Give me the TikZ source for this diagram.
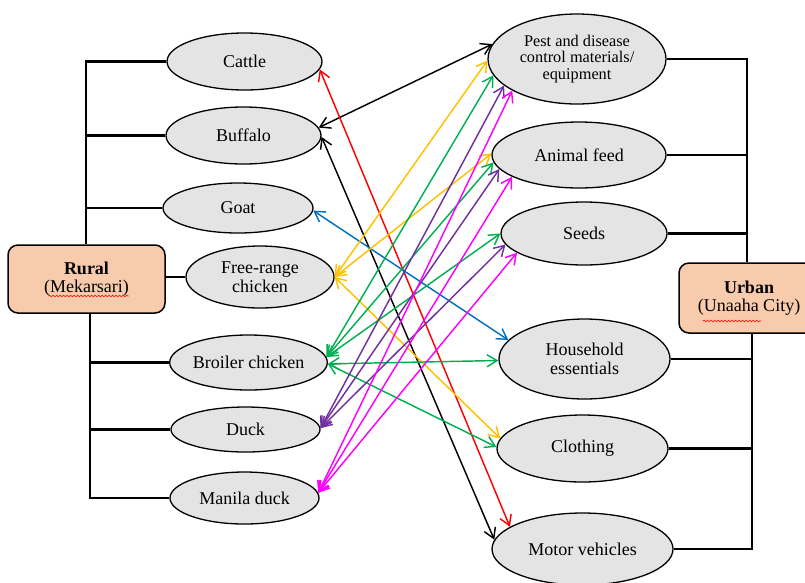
\documentclass[tikz,border=0pt]{standalone}
\usepackage{fontspec}
\setmainfont{Liberation Serif}
\usetikzlibrary{shapes.geometric,arrows.meta,calc,decorations.pathmorphing}
\definecolor{ellfill}{HTML}{E4E4E4}
\definecolor{boxfill}{HTML}{F8CBAD}
\definecolor{cOrange}{HTML}{FFC000}
\definecolor{cGreen}{HTML}{00B050}
\definecolor{cPurple}{HTML}{7030A0}
\definecolor{cMagenta}{HTML}{FF00FF}
\definecolor{cBlue}{HTML}{0070C0}
\definecolor{cRed}{HTML}{FF0000}
\begin{document}
\begin{tikzpicture}[x=1pt,y=-1pt,
 item/.style={ellipse, draw, line width=1.3pt, fill=ellfill, inner sep=0pt, align=center, font=\fontsize{18}{18.5}\selectfont},
 area/.style={rectangle, rounded corners=10pt, draw, line width=1.5pt, fill=boxfill, inner sep=0pt, align=center, font=\fontsize{18}{18.5}\selectfont},
 bus/.style={line width=2.2pt},
 link/.style={line width=1.45pt, {Straight Barb[length=10pt,width=12pt]}-{Straight Barb[length=10pt,width=12pt]}},
 squig/.style={draw=red, line width=0.6pt, decorate, decoration={snake, amplitude=0.9pt, segment length=3.5pt}}
]
\clip (0,0) rectangle (805,582);
% left nodes
\node[item, minimum width=155pt, minimum height=57pt] (cattle) at (244.5,61.5) {Cattle};
\node[item, minimum width=155pt, minimum height=57pt] (buffalo) at (243.5,135.5) {Buffalo};
\node[item, minimum width=150pt, minimum height=50pt] (goat) at (238,208) {Goat};
\node[item, minimum width=148pt, minimum height=62pt] (free) at (260,277) {Free-range\\chicken};
\node[item, minimum width=153pt, minimum height=55pt] (broiler) at (248.5,362.5) {Broiler chicken};
\node[item, minimum width=149pt, minimum height=45pt] (duck) at (245.5,429.5) {Duck};
\node[item, minimum width=149pt, minimum height=52pt] (manila) at (244.5,498) {Manila duck};
% right nodes
\node[item, minimum width=178pt, minimum height=90pt, font=\fontsize{16.3}{16.3}\selectfont] (pest) at (577,59) {Pest and disease\\control materials/\\equipment};
\node[item, minimum width=174pt, minimum height=66pt] (feed) at (579,155) {Animal feed};
\node[item, minimum width=166pt, minimum height=63pt] (seeds) at (584,233.5) {Seeds};
\node[item, minimum width=171pt, minimum height=80pt] (house) at (584.5,359) {Household\\essentials};
\node[item, minimum width=171pt, minimum height=67pt] (cloth) at (582.5,448.5) {Clothing};
\node[item, minimum width=181pt, minimum height=72pt] (motor) at (582.5,549) {Motor vehicles};
% boxes
\node[area, minimum width=157pt, minimum height=68pt] (rural) at (86.5,279) {\textbf{Rural}\\(Mekarsari)};
\node[area, minimum width=140pt, minimum height=70pt] (urban) at (749,298) {\textbf{Urban}\\(Unaaha City)};
\draw[squig] ($(rural.center)+(-38,17)$) -- ($(rural.center)+(42,17)$);
\draw[squig] ($(urban.center)+(-46,23)$) -- ($(urban.center)+(12,23)$);
% bus lines
\coordinate (lb1) at (86,0);
\coordinate (lb2) at (90,0);
\coordinate (rb1) at (747,0);
\coordinate (rb2) at (752,0);
\draw[bus] (cattle.west) -- (cattle.west -| lb1) -- (rural.north -| lb1);
\draw[bus] (buffalo.west) -- (buffalo.west -| lb1);
\draw[bus] (goat.west) -- (goat.west -| lb1);
\draw[bus] (free.west) -- (free.west -| rural.east);
\draw[bus] (rural.south -| lb2) -- (manila.west -| lb2) -- (manila.west);
\draw[bus] (broiler.west) -- (broiler.west -| lb2);
\draw[bus] (duck.west) -- (duck.west -| lb2);
\draw[bus] (pest.east) -- (pest.east -| rb1) -- (urban.north -| rb1);
\draw[bus] (feed.east) -- (feed.east -| rb1);
\draw[bus] (seeds.east) -- (seeds.east -| rb1);
\draw[bus] (urban.south -| rb2) -- (motor.east -| rb2) -- (motor.east);
\draw[bus] (house.east) -- (house.east -| rb2);
\draw[bus] (cloth.east) -- (cloth.east -| rb2);
% links
\draw[link, black] (buffalo.6) -- (pest.170);
\draw[link, black] (buffalo.-1) -- (motor.174);
\draw[link, cRed] (cattle.-6) -- (motor.163);
\draw[link, cBlue] (goat.-2) -- (house.166);
\draw[link, cOrange] (free.0) -- (pest.181);
\draw[link, cOrange] (free.0) -- (feed.179);
\draw[link, cOrange] (free.0) -- (cloth.173);
\draw[link, cGreen] (broiler.4) -- (pest.191);
\draw[link, cGreen] (broiler.4) -- (feed.185);
\draw[link, cGreen] (broiler.4) -- (seeds.180);
\draw[link, cGreen] (broiler.-1) -- (house.181);
\draw[link, cGreen] (broiler.-1) -- (cloth.179);
\draw[link, cPurple] (duck.1) -- (pest.200);
\draw[link, cPurple] (duck.1) -- (feed.190);
\draw[link, cPurple] (duck.1) -- (seeds.188);
\draw[link, cMagenta] (manila.4) -- (pest.206);
\draw[link, cMagenta] (manila.4) -- (feed.198);
\draw[link, cMagenta] (manila.4) -- (seeds.196);
\end{tikzpicture}
\end{document}
